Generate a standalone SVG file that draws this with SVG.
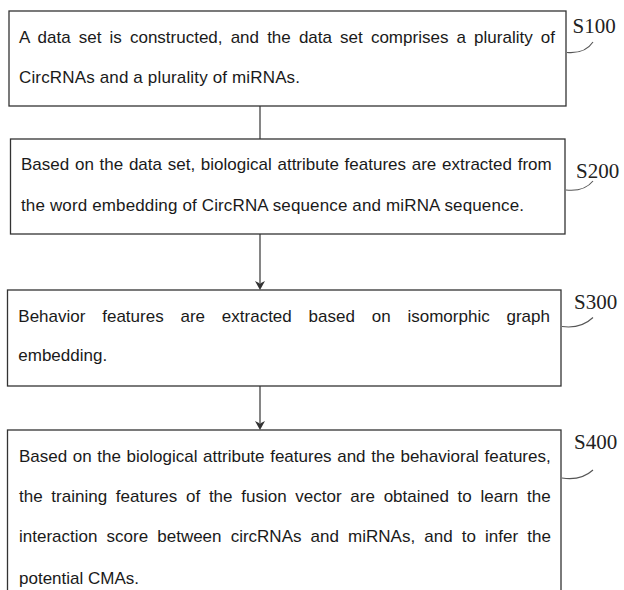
<svg xmlns="http://www.w3.org/2000/svg" width="624" height="590" viewBox="0 0 624 590">
  <style>
    .box { fill: #ffffff; stroke: #333333; stroke-width: 1.3; }
    .txt { font-family: "Liberation Sans", Arial, sans-serif; font-size: 17px; fill: #1a1a1a; }
    .tag { font-family: "Liberation Serif", "Times New Roman", serif; font-size: 21px; fill: #222222; }
    .lead { fill: none; stroke: #555555; stroke-width: 1.1; }
    .link { fill: none; stroke: #444444; stroke-width: 1.3; }
    .head { fill: #333333; }
  </style>
  <defs>
    <path id="arrowhead" d="M-5,-9 L0,-6.5 L5,-9 L0,0 Z"/>
  </defs>
  <rect width="624" height="590" fill="#ffffff"/>

  <!-- connectors between steps -->
  <g id="connectors">
    <line class="link" x1="260" y1="106" x2="260" y2="139"/>
    <line class="link" x1="260" y1="234" x2="260" y2="283"/>
    <use href="#arrowhead" class="head" x="260" y="290"/>
    <line class="link" x1="260" y1="386" x2="260" y2="423"/>
    <use href="#arrowhead" class="head" x="260" y="430"/>
  </g>

  <!-- step S100 -->
  <g id="s100">
    <rect class="box" x="9" y="11" width="557" height="95"/>
    <text class="txt" x="19" y="43" style="word-spacing:3.4px">A data set is constructed, and the data set comprises a plurality of</text>
    <text class="txt" x="19" y="83" textLength="281" lengthAdjust="spacing">CircRNAs and a plurality of miRNAs.</text>
    <path class="lead" d="M567,52.5 Q585,54 593,42"/>
    <text class="tag" x="572.5" y="33">S100</text>
  </g>

  <!-- step S200 -->
  <g id="s200">
    <rect class="box" x="10.5" y="139" width="554.5" height="95"/>
    <text class="txt" x="21" y="170" style="word-spacing:1px">Based on the data set, biological attribute features are extracted from</text>
    <text class="txt" x="21" y="211" textLength="503" lengthAdjust="spacing">the word embedding of CircRNA sequence and miRNA sequence.</text>
    <path class="lead" d="M566,190 Q584,192 593,181"/>
    <text class="tag" x="576" y="178">S200</text>
  </g>

  <!-- step S300 -->
  <g id="s300">
    <rect class="box" x="7.5" y="290" width="553.5" height="96"/>
    <text class="txt" x="18.3" y="322" style="word-spacing:12.1px">Behavior features are extracted based on isomorphic graph</text>
    <text class="txt" x="18.3" y="361">embedding.</text>
    <path class="lead" d="M562,326.5 Q581,329 593,317.5"/>
    <text class="tag" x="574" y="309">S300</text>
  </g>

  <!-- step S400 -->
  <g id="s400">
    <rect class="box" x="7.5" y="430" width="553.5" height="180"/>
    <text class="txt" x="19" y="462" style="word-spacing:0.9px">Based on the biological attribute features and the behavioral features,</text>
    <text class="txt" x="19" y="502" style="word-spacing:4px">the training features of the fusion vector are obtained to learn the</text>
    <text class="txt" x="19" y="542" style="word-spacing:4.4px">interaction score between circRNAs and miRNAs, and to infer the</text>
    <text class="txt" x="19" y="584">potential CMAs.</text>
    <path class="lead" d="M562,478 Q581,481 593,470"/>
    <text class="tag" x="574" y="449">S400</text>
  </g>
</svg>
